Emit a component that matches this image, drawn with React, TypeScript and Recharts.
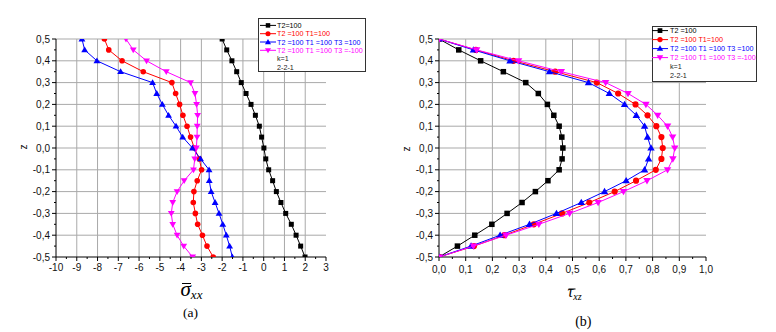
import { ScatterChart, Scatter, XAxis, YAxis, CartesianGrid } from 'recharts';

// z positions shared by every series (top to bottom)
const zValues = [0.5, 0.45, 0.4, 0.35, 0.3, 0.25, 0.2, 0.15, 0.1, 0.05, 0, -0.05, -0.1, -0.15, -0.2, -0.25, -0.3, -0.35, -0.4, -0.45, -0.5];

// (a) sigma_xx
const sigmaT2 = [-2.0, -1.78, -1.53, -1.3, -1.08, -0.85, -0.61, -0.4, -0.21, -0.1, 0.01, 0.1, 0.24, 0.43, 0.61, 0.83, 1.06, 1.33, 1.56, 1.78, 1.99];
const sigmaT2T1 = [-7.67, -7.46, -6.82, -5.8, -4.42, -4.24, -4.05, -3.89, -3.69, -3.52, -3.34, -3.1, -2.99, -3.2, -3.36, -3.39, -3.29, -3.18, -2.95, -2.73, -2.43];
const sigmaT2T1T3 = [-8.75, -8.62, -8.03, -6.89, -5.35, -5.15, -4.88, -4.58, -4.22, -3.9, -3.43, -3.04, -2.63, -2.62, -2.53, -2.34, -2.15, -1.97, -1.8, -1.64, -1.51];
const sigmaT2T1T3m = [-6.63, -6.28, -5.64, -4.69, -3.52, -3.31, -3.23, -3.18, -3.2, -3.21, -3.24, -3.32, -3.38, -3.83, -4.17, -4.38, -4.45, -4.38, -4.17, -3.85, -3.42];

// (b) tau_xz
const tauT2 = [0, 0.074, 0.156, 0.241, 0.325, 0.372, 0.406, 0.43, 0.45, 0.46, 0.464, 0.461, 0.45, 0.408, 0.361, 0.311, 0.255, 0.198, 0.134, 0.069, 0];
const tauT2T1 = [0, 0.138, 0.279, 0.435, 0.591, 0.671, 0.736, 0.781, 0.814, 0.833, 0.838, 0.833, 0.812, 0.738, 0.658, 0.563, 0.461, 0.355, 0.245, 0.131, 0];
const tauT2T1T3 = [0, 0.129, 0.266, 0.414, 0.56, 0.638, 0.695, 0.739, 0.77, 0.781, 0.794, 0.785, 0.77, 0.701, 0.62, 0.533, 0.44, 0.339, 0.229, 0.12, 0];
const tauT2T1T3m = [0, 0.141, 0.298, 0.458, 0.624, 0.708, 0.775, 0.819, 0.856, 0.875, 0.883, 0.876, 0.856, 0.779, 0.691, 0.596, 0.489, 0.374, 0.251, 0.129, 0];

const legendA = ['T2=100', 'T2 =100 T1=100', 'T2 =100 T1 =100 T3 =100', 'T2 =100 T1 =100 T3 =-100'];
const legendB = ['T2 =100', 'T2 =100 T1=100', 'T2 =100 T1 =100 T3 =100', 'T2 =100 T1 =100 T3 =-100'];
const legendNotes = ['k=1', '2-2-1'];

const xTicksA = [-10, -9, -8, -7, -6, -5, -4, -3, -2, -1, 0, 1, 2, 3];
const xTicksB = [0, 0.1, 0.2, 0.3, 0.4, 0.5, 0.6, 0.7, 0.8, 0.9, 1.0];
const zTicks = [-0.5, -0.4, -0.3, -0.2, -0.1, 0, 0.1, 0.2, 0.3, 0.4, 0.5];

const colors = ['#000000', '#ff0000', '#0000ff', '#ff00ff'];
const shapes = ['square', 'circle', 'up', 'down'];

const withMinors = (major: number[]) => {
  const mids = major.slice(1).map((v, i) => (v + major[i]) / 2);
  return [...major, ...mids].sort((a, b) => a - b);
};
const isMajor = (v: number, major: number[]) => major.some((t) => Math.abs(t - v) < 1e-9);
const comma = (v: number) => v.toFixed(1).replace('.', ',');
const toPoints = (xs: number[]) => xs.map((x, i) => ({ x, z: zValues[i] }));

const tickFont = { fontFamily: 'Liberation Sans, Arial, sans-serif', fontSize: 10, fill: '#111' };

function Marker({ cx, cy, shape, color, k = 1 }: any) {
  if (cx == null || cy == null) return null;
  if (shape === 'square') {
    const s = 5 * k;
    return <rect x={cx - s / 2} y={cy - s / 2} width={s} height={s} fill={color} />;
  }
  if (shape === 'circle') return <circle cx={cx} cy={cy} r={2.8 * k} fill={color} />;
  const h = 3.4 * k;
  const w = 3.4 * k;
  const pts = shape === 'up'
    ? `${cx},${cy - h} ${cx - w},${cy + h * 0.7} ${cx + w},${cy + h * 0.7}`
    : `${cx},${cy + h} ${cx - w},${cy - h * 0.7} ${cx + w},${cy - h * 0.7}`;
  return <polygon points={pts} fill={color} />;
}

function YTick({ x, y, payload, majors }: any) {
  const major = isMajor(payload.value, majors);
  return (
    <g>
      <line x1={x} x2={x - (major ? 4 : 2)} y1={y} y2={y} stroke="#000" />
      {major && (
        <text x={x - 6} y={y} dy={3.6} textAnchor="end" {...tickFont}>
          {comma(payload.value)}
        </text>
      )}
    </g>
  );
}

function XTick({ x, y, payload, majors, fmt, dy }: any) {
  const major = isMajor(payload.value, majors);
  return (
    <g>
      <line x1={x} x2={x} y1={y} y2={y + (major ? 4 : 2)} stroke="#000" />
      {major && (
        <text x={x} y={y} dy={dy} textAnchor="middle" {...tickFont}>
          {fmt(payload.value)}
        </text>
      )}
    </g>
  );
}

function Panel({ series, xTicks, fmt, width, height, margin, xAxisDy, k }: any) {
  const xAll = withMinors(xTicks);
  const zAll = withMinors(zTicks);
  return (
    <ScatterChart width={width} height={height} margin={margin}>
      <CartesianGrid
        stroke="#a9a9a9"
        verticalValues={xTicks.slice(1, -1)}
        horizontalValues={zTicks.slice(1)}
      />
      <XAxis
        dataKey="x"
        type="number"
        domain={[xTicks[0], xTicks[xTicks.length - 1]]}
        ticks={xAll}
        interval={0}
        allowDataOverflow
        axisLine={{ stroke: '#000' }}
        tickLine={false}
        tickSize={0}
        tickMargin={0}
        height={height - margin.top - 218}
        tick={(p: any) => <XTick {...p} majors={xTicks} fmt={fmt} dy={xAxisDy} />}
      />
      <YAxis
        dataKey="z"
        type="number"
        domain={[-0.5, 0.5]}
        ticks={zAll}
        interval={0}
        allowDataOverflow
        axisLine={{ stroke: '#000' }}
        tickLine={false}
        tickSize={0}
        tickMargin={0}
        width={56}
        tick={(p: any) => <YTick {...p} majors={zTicks} />}
      />
      {series.map((xs: number[], i: number) => (
        <Scatter
          key={i}
          data={toPoints(xs)}
          line={{ stroke: colors[i], strokeWidth: 1 }}
          lineType="joint"
          isAnimationActive={false}
          shape={(p: any) => <Marker cx={p.cx} cy={p.cy} shape={shapes[i]} color={colors[i]} k={k} />}
        />
      ))}
    </ScatterChart>
  );
}

function LegendBox({ left, top, width, height, labels, first, step, lineX1, lineX2, textX, k }: any) {
  const rows = [...labels, ...legendNotes];
  return (
    <svg
      width={width}
      height={height}
      style={{ position: 'absolute', left, top, background: '#fff' }}
    >
      <rect x={0.5} y={0.5} width={width - 1} height={height - 1} fill="#fff" stroke="#333" />
      {rows.map((label: string, i: number) => {
        const y = first + i * step;
        const isSeries = i < labels.length;
        return (
          <g key={i}>
            {isSeries && (
              <>
                <line x1={lineX1} x2={lineX2} y1={y} y2={y} stroke={colors[i]} />
                <Marker cx={(lineX1 + lineX2) / 2} cy={y} shape={shapes[i]} color={colors[i]} k={k} />
              </>
            )}
            <text
              x={textX}
              y={y}
              dy={2.6}
              fontFamily="Liberation Sans, Arial, sans-serif"
              fontSize={7.2}
              fill={isSeries ? colors[i] : '#222'}
            >
              {label}
            </text>
          </g>
        );
      })}
    </svg>
  );
}

export default function App() {
  const serif = 'Liberation Serif, Times New Roman, serif';
  return (
    <div style={{ position: 'absolute', left: 0, top: 0, width: 776, height: 332, background: '#fff', overflow: 'hidden' }}>
      <div style={{ position: 'absolute', left: 0, top: 0 }}>
        <Panel
          series={[sigmaT2, sigmaT2T1, sigmaT2T1T3, sigmaT2T1T3m]}
          xTicks={xTicksA}
          fmt={(v: number) => String(v)}
          width={340}
          height={290}
          margin={{ top: 39, right: 14, bottom: 0, left: 0 }}
          xAxisDy={13.6}
          k={1}
        />
      </div>
      <div style={{ position: 'absolute', left: 383, top: 0 }}>
        <Panel
          series={[tauT2, tauT2T1, tauT2T1T3, tauT2T1T3m]}
          xTicks={xTicksB}
          fmt={comma}
          width={340}
          height={300}
          margin={{ top: 39, right: 17, bottom: 0, left: 0 }}
          xAxisDy={15.6}
          k={1.1}
        />
      </div>

      <svg width={776} height={332} style={{ position: 'absolute', left: 0, top: 0, pointerEvents: 'none' }}>
        <text x={23} y={147} dy={3.5} transform="rotate(-90 23 147)" textAnchor="middle" {...tickFont}>z</text>
        <text x={406} y={149} dy={3.5} transform="rotate(-90 406 149)" textAnchor="middle" {...tickFont}>z</text>

        <line x1={182} x2={191} y1={283.5} y2={283.5} stroke="#000" strokeWidth={1} />
        <text x={180.5} y={296} fontFamily={serif} fontStyle="italic" fontSize={21} fill="#000">
          σ<tspan fontSize={13} dy={3}>xx</tspan>
        </text>
        <text x={190.5} y={317} textAnchor="middle" fontFamily={serif} fontSize={13.5} fill="#000">(a)</text>

        <line x1={568.5} x2={575.5} y1={289} y2={289} stroke="#000" strokeWidth={1} />
        <text x={567.5} y={297.3} fontFamily={serif} fontStyle="italic" fontSize={16} fill="#000">
          τ<tspan fontSize={10} dy={2.7}>xz</tspan>
        </text>
        <text x={583.3} y={326} textAnchor="middle" fontFamily={serif} fontSize={14} fill="#000">(b)</text>
      </svg>

      <LegendBox left={258} top={18} width={108} height={54} labels={legendA} first={7.4} step={8.3} lineX1={2} lineX2={18} textX={19} k={0.9} />
      <LegendBox left={652} top={26} width={105} height={56} labels={legendB} first={4.6} step={9.0} lineX1={0} lineX2={16} textX={18} k={0.95} />
    </div>
  );
}
